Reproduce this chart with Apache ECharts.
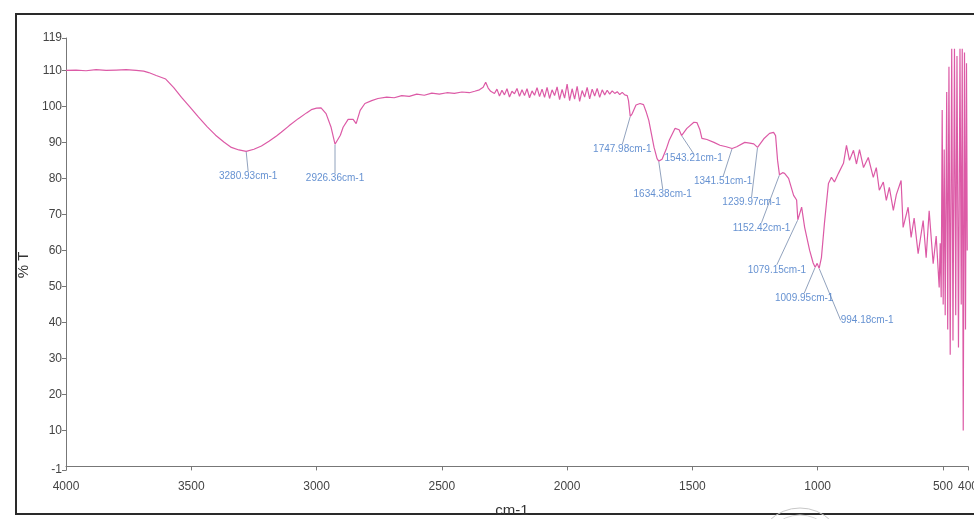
<!DOCTYPE html>
<html>
<head>
<meta charset="utf-8">
<script src="https://cdn.jsdelivr.net/npm/echarts@6/dist/echarts.min.js"></script>
<style>
  html, body { margin: 0; padding: 0; background: #fff; }
  #chart { width: 974px; height: 519px; }
</style>
</head>
<body>
<div id="chart"></div>
<script>
// FT-IR transmission spectrum: wavenumber (cm-1) vs %T
const wavenumber = [
  4000, 3960, 3920, 3880, 3840, 3800, 3760, 3720, 3690, 3670, 3640, 3602, 3570, 3539, 3505, 3471, 3437, 3403, 3370, 3340, 3310,
  3280.93, 3250, 3220, 3190, 3160, 3141, 3110, 3073, 3040, 3021, 3000, 2982, 2962, 2942, 2926.36, 2905, 2894, 2874, 2854, 2842,
  2826, 2807, 2780, 2755, 2720, 2690, 2660, 2630, 2600, 2570, 2540, 2510, 2480, 2450, 2420, 2390, 2369, 2350, 2335, 2325, 2315, 2305,
  2290, 2280, 2270, 2260, 2250, 2240, 2230, 2220, 2210, 2200, 2190, 2180, 2170, 2160, 2150, 2140, 2130, 2120, 2110, 2100,
  2090, 2080, 2070, 2060, 2050, 2040, 2030, 2020, 2010, 2000, 1990, 1980, 1970, 1960, 1950, 1940, 1930, 1920, 1910, 1900,
  1890, 1880, 1870, 1860, 1850, 1840, 1830, 1820, 1810, 1800, 1790, 1780, 1770, 1760, 1755,
  1747.98, 1740, 1725, 1709, 1695, 1685, 1674, 1653, 1641, 1634.38, 1621, 1605, 1593, 1569, 1553, 1543.21, 1522, 1494, 1482, 1470,
  1462, 1442, 1414, 1390, 1365, 1341.51, 1323, 1291, 1271, 1255, 1239.97, 1215, 1192, 1176, 1168, 1160, 1152.42, 1140, 1132, 1116,
  1096, 1084, 1079.15, 1064, 1052, 1032, 1018, 1009.95, 1002, 994.18, 985, 973, 957, 945, 933, 917, 897, 885, 873, 857, 845, 833,
  817, 798, 778, 766, 754, 738, 726, 714, 698, 686, 667, 659, 639, 627, 615, 599, 579, 567, 555, 539, 527, 515,
  511, 507, 503, 499, 495, 491, 485, 481, 476, 471, 465, 460, 454, 449, 444, 438, 432, 427, 423, 419, 414, 410, 406, 403
];
const transmittance = [
  110.0, 110.1, 109.9, 110.2, 110.0, 110.1, 110.2, 110.0, 109.8, 109.4, 108.6, 107.6, 105.2, 102.5, 99.8, 97.0, 94.4, 92.0, 90.1, 88.6, 87.9,
  87.5, 88.1, 89.0, 90.3, 91.8, 92.8, 94.6, 96.6, 98.2, 99.1, 99.5, 99.6, 98.0, 94.2, 89.5, 92.0, 94.2, 96.4, 96.4, 95.2,
  98.9, 100.8, 101.6, 102.2, 102.6, 102.4, 103.0, 102.8, 103.4, 103.1, 103.7, 103.4, 103.8, 103.6, 104.0, 103.8, 104.2, 104.6, 105.3, 106.7, 105.1, 104.2,
  103.6, 104.8, 102.9, 104.5, 103.2, 104.9, 102.6, 104.2, 103.5, 105.0, 102.8, 104.6, 103.0, 104.9, 102.4, 104.3, 103.1, 105.2, 102.7, 104.8,
  102.5, 105.3, 102.2, 104.6, 103.0, 105.4, 101.9, 104.7, 102.3, 106.2, 101.6, 104.9, 102.0, 105.6, 101.4, 104.4, 102.6, 105.3, 102.1, 104.8,
  102.9, 105.0, 102.5, 104.6, 103.2, 104.5, 103.4, 104.3, 103.6, 104.1, 103.3, 103.9, 103.2, 103.0, 101.6,
  97.2, 98.0, 100.4, 100.8, 100.5, 98.6, 96.1, 88.6, 85.5, 84.8, 85.3, 88.0, 90.5, 93.9, 93.5, 91.9, 93.9, 95.6, 95.5, 93.5,
  91.1, 90.8, 90.0, 89.2, 88.8, 88.3, 88.8, 90.0, 89.8, 89.6, 88.6, 91.0, 92.5, 92.8, 91.9, 85.0, 81.0, 81.6, 81.4, 80.0,
  75.3, 74.0, 68.5, 72.0, 66.4, 60.0, 56.5, 55.3, 56.4, 55.0, 58.0, 67.5, 78.6, 80.3, 79.0, 81.4, 84.2, 89.2, 85.0, 87.8, 84.0, 88.0,
  83.0, 85.8, 80.3, 83.0, 76.7, 79.0, 73.9, 77.5, 71.1, 75.5, 79.4, 66.4, 72.0, 63.6, 69.0, 59.1, 68.3, 58.0, 71.0, 56.3, 64.0, 49.7,
  62, 47, 99, 45, 88, 42, 104, 38, 111, 31, 116, 35, 116, 42, 114, 33, 116, 45, 116, 10, 115, 38, 112, 60
];

// Annotated band positions
const peakWavenumbers = [3280.93, 2926.36, 1747.98, 1634.38, 1543.21, 1341.51, 1239.97, 1152.42, 1079.15, 1009.95, 994.18];
const peakTransmittance = [87.5, 89.5, 97.2, 84.8, 91.9, 88.3, 88.6, 81.0, 68.5, 55.3, 55.0];

// Axis tick labels
const xTicks = [4000, 3500, 3000, 2500, 2000, 1500, 1000, 500, 400];
const yTicks = [-1, 10, 20, 30, 40, 50, 60, 70, 80, 90, 100, 110, 119];

// Where each band label sits relative to its band (pixels)
const labelOffsets = [
  [2, 25], [0, 34], [-8, 33], [4, 33], [12, 23], [-9, 33],
  [-6, 55], [-18, 53], [-21, 50], [-11, 31], [48, 52]
];

const spectrum = wavenumber.map((w, i) => [w, transmittance[i]]);
const peaks = peakWavenumbers.map((w, i) => [w, peakTransmittance[i]]);

const chart = echarts.init(document.getElementById('chart'), null, { renderer: 'canvas' });

const axisFont = { color: '#444', fontSize: 12, fontFamily: 'Liberation Sans, Arial, sans-serif' };

chart.setOption({
  backgroundColor: '#fff',
  animation: false,
  grid: { left: 66, right: 6, top: 38, bottom: 49, containLabel: false, outerBoundsMode: 'none' },
  xAxis: {
    type: 'value',
    inverse: true,
    min: 400,
    max: 4000,
    name: 'cm-1',
    nameLocation: 'middle',
    nameGap: 33,
    nameTextStyle: { color: '#333', fontSize: 15, fontFamily: 'Liberation Sans, Arial, sans-serif', padding: [0, 10, 0, 0] },
    axisLine: { show: true, lineStyle: { color: '#777', width: 1 } },
    axisTick: { show: true, length: 4, lineStyle: { color: '#777' }, customValues: xTicks },
    axisLabel: Object.assign({ margin: 11, customValues: xTicks, formatter: v => String(v) }, axisFont),
    splitLine: { show: false }
  },
  yAxis: {
    type: 'value',
    min: -1,
    max: 119,
    name: '% T',
    nameLocation: 'middle',
    nameRotate: 90,
    nameGap: 32,
    nameTextStyle: { color: '#333', fontSize: 15, fontFamily: 'Liberation Sans, Arial, sans-serif', padding: [0, 22, 0, 0] },
    axisLine: { show: true, lineStyle: { color: '#777', width: 1 } },
    axisTick: { show: true, length: 4, lineStyle: { color: '#777' }, customValues: yTicks },
    axisLabel: Object.assign({ margin: 4, customValues: yTicks, formatter: v => String(v) }, axisFont),
    splitLine: { show: false }
  },
  series: [
    {
      type: 'line',
      data: spectrum,
      showSymbol: false,
      symbol: 'none',
      smooth: false,
      clip: true,
      lineStyle: { color: '#dc5aa6', width: 1.2 },
      z: 2
    },
    {
      type: 'scatter',
      data: peaks,
      symbolSize: 1,
      itemStyle: { color: 'rgba(0,0,0,0)' },
      label: {
        show: true,
        position: 'inside',
        align: 'center',
        verticalAlign: 'middle',
        formatter: p => p.value[0].toFixed(2) + 'cm-1',
        color: '#3f76c6',
        fontSize: 10,
        fontFamily: 'Liberation Sans, Arial, sans-serif'
      },
      labelLine: {
        show: true,
        lineStyle: { color: '#8497b6', width: 0.9 }
      },
      labelLayout: function (params) {
        const o = labelOffsets[params.dataIndex];
        return { dx: o[0], dy: o[1] };
      },
      z: 3
    }
  ],
  graphic: [
    {
      type: 'rect',
      shape: { x: 16, y: 14, width: 990, height: 500 },
      style: { fill: 'none', stroke: '#2a2a2a', lineWidth: 2 },
      silent: true
    },
    {
      type: 'circle',
      shape: { cx: 800, cy: 552, r: 44 },
      style: { fill: 'none', stroke: '#c8c8c8', lineWidth: 1 },
      silent: true
    },
    {
      type: 'circle',
      shape: { cx: 800, cy: 552, r: 37 },
      style: { fill: 'none', stroke: '#d6d6d6', lineWidth: 1 },
      silent: true
    }
  ]
});
</script>
</body>
</html>
